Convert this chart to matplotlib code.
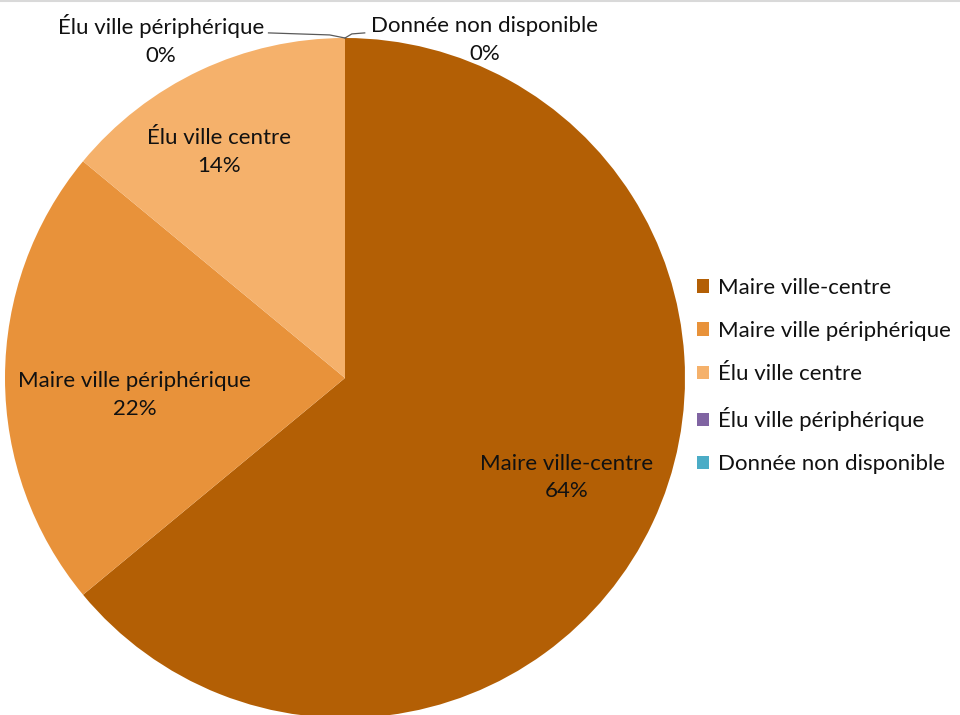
import matplotlib.pyplot as plt
from matplotlib.patches import Patch

plt.rcParams["font.family"] = ["Lato", "DejaVu Sans"]

categories = ["Maire ville-centre", "Maire ville périphérique", "Élu ville centre",
              "Élu ville périphérique", "Donnée non disponible"]
values = [64, 22, 14, 0, 0]
colors = ["#B35F05", "#E8923A", "#F5B16B", "#8064A2", "#4BACC6"]

fig = plt.figure(figsize=(9.6, 7.15), dpi=100)
ax = fig.add_axes([5 / 960, -3 / 715, 680 / 960, 680 / 715])

wedges, _ = ax.pie(values, colors=colors, startangle=90, counterclock=False,
                   radius=1, wedgeprops=dict(linewidth=0))
ax.set_xlim(-1, 1)
ax.set_ylim(-1, 1)
ax.set_aspect("auto")
ax.axis("off")

total = sum(values)
labels = [f"{c}\n{round(v / total * 100)}%" for c, v in zip(categories, values)]
fs = 16

# label positions inside the pie
inner_pos = [(0.653, -0.292), (-0.618, -0.05), (-0.372, 0.665)]
for (x, y), txt in zip(inner_pos, labels[:3]):
    ax.text(x, y, txt, ha="center", va="center", fontsize=fs,
            linespacing=1.45, color="#111111")

# zero slices, labelled outside the top of the pie
ax.text(-0.541, 0.994, labels[3], ha="center", va="center", fontsize=fs,
        linespacing=1.45, color="#111111", clip_on=False)
ax.text(0.41, 0.994, labels[4], ha="center", va="center", fontsize=fs,
        linespacing=1.45, color="#111111", clip_on=False)
ax.plot([0, -0.045, -0.225], [1.0, 1.009, 1.015], color="#595959", lw=0.9, clip_on=False)
ax.plot([0, 0.02, 0.058], [1.0, 1.012, 1.015], color="#595959", lw=0.9, clip_on=False)

handles = [Patch(facecolor=c, edgecolor="none") for c in colors]
fig.legend(handles, categories, loc="center left", bbox_to_anchor=(697 / 960, 0.474),
           frameon=False, fontsize=fs, labelspacing=1.04, handlelength=0.55,
           handleheight=0.55, handletextpad=0.4, borderpad=0, borderaxespad=0,
           labelcolor="#111111")

fig.add_artist(plt.Line2D([0, 1], [0.998, 0.998], color="#d9d9d9", lw=1.5))

fig.savefig("out.png", dpi=100)
